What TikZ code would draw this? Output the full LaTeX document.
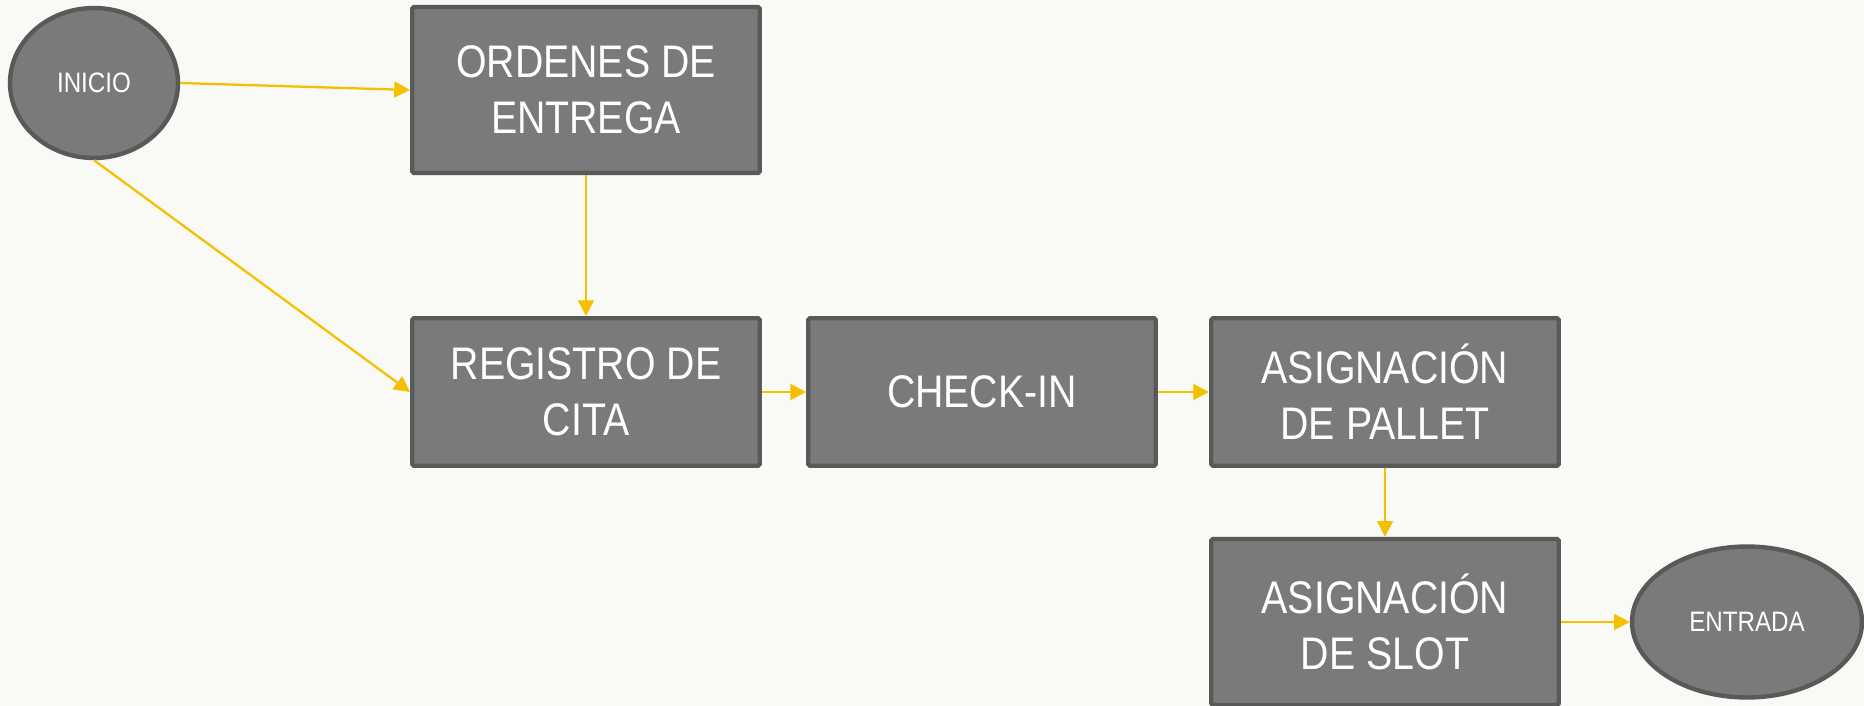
\documentclass[tikz,border=0pt]{standalone}
\usepackage{fontspec}
\setmainfont{Liberation Sans}[FakeStretch=0.86]
\usetikzlibrary{shapes.geometric,arrows.meta}

\definecolor{boxgray}{HTML}{7A7A7A}
\definecolor{edgegray}{HTML}{595959}
\definecolor{linkgold}{HTML}{F5C000}
\definecolor{paper}{HTML}{F9F9F5}

\begin{document}
\begin{tikzpicture}[x=0.02cm, y=-0.02cm,
    paso/.style={draw=edgegray, fill=boxgray, line width=2.5pt, rounded corners=1pt,
      text=white, align=center, minimum width=6.95cm,
      font=\fontsize{26}{32}\selectfont},
    borne/.style={ellipse, draw=edgegray, fill=boxgray, line width=2.5pt,
      text=white, font=\fontsize{16}{19}\selectfont},
    link/.style={draw=linkgold, line width=1.3pt, -{Triangle[length=9pt, width=9pt]}}]

      \useasboundingbox[fill=paper] (0, 0) rectangle (1864, 706);

      \node[borne, minimum width=3.36cm, minimum height=3.0cm] (inicio) at (94, 83) {INICIO};
      \node[paso, minimum height=3.32cm] (ordenes) at (586, 90) {ORDENES DE\\ENTREGA};
      \node[paso, minimum height=2.95cm] (registro) at (586, 392) {REGISTRO DE\\CITA};
      \node[paso, minimum height=2.95cm] (checkin) at (982, 392) {CHECK-IN};
      \node[paso, minimum height=2.95cm] (pallet) at (1385, 392) {ASIGNACIÓN\\DE PALLET};
      \node[paso, minimum height=3.32cm] (slot) at (1385, 622) {ASIGNACIÓN\\DE SLOT};
      \node[borne, minimum width=4.6cm, minimum height=3.02cm] (entrada) at (1747, 622) {ENTRADA};

      \draw[link] (inicio.east) -- (ordenes.west);
      \draw[link] (inicio.south) -- (registro.west);
      \draw[link] (ordenes.south) -- (registro.north);
      \draw[link] (registro.east) -- (checkin.west);
      \draw[link] (checkin.east) -- (pallet.west);
      \draw[link] (pallet.south) -- (slot.north);
      \draw[link] (slot.east) -- (entrada.west);

    \end{tikzpicture}
\end{document}
